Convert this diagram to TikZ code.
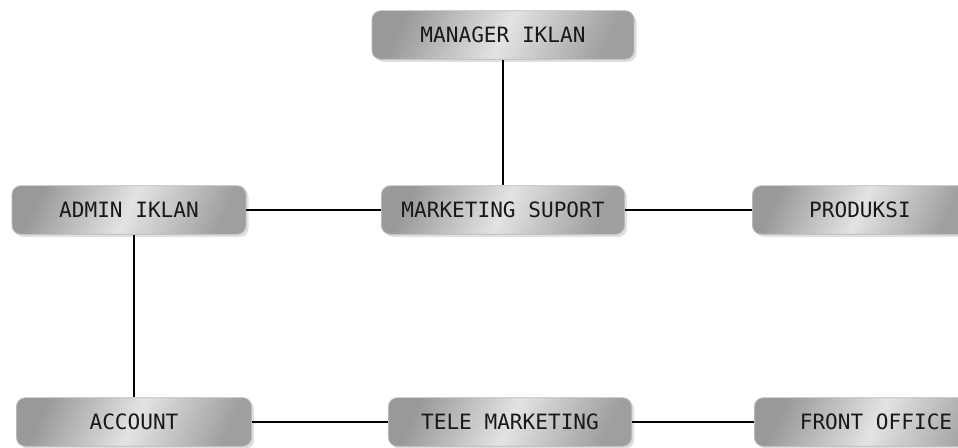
\documentclass[tikz,border=0pt]{standalone}
\usepackage{fontspec}
\setmonofont{DejaVu Sans Mono}
\usetikzlibrary{shadows,positioning}

\tikzset{
  unit/.style={rounded corners=5pt, draw=gray!55, line width=0.5pt,
    left color=gray!80, right color=gray!75, middle color=gray!22,
    shading angle=65,
    drop shadow={opacity=0.25, shadow xshift=1.5pt, shadow yshift=-1.5pt},
    minimum height=0.97cm, inner sep=0pt,
    font=\ttfamily\fontsize{12}{14}\selectfont, text=black!90},
  link/.style={draw=black, line width=0.6pt}
}

\begin{document}
\begin{tikzpicture}[x=0.02cm,y=-0.02cm]
  \useasboundingbox (0,0) rectangle (958,447);

  % top
  \node[unit,minimum width=5.24cm] (manager)  at (503,35)  {MANAGER IKLAN};

  % middle row
  \node[unit,minimum width=4.68cm] (admin)    at (129,210) {ADMIN IKLAN};
  \node[unit,minimum width=4.86cm] (mktsup)   at (503,210) {MARKETING SUPORT};
  \node[unit,minimum width=4.30cm] (produksi) at (860,210) {PRODUKSI};

  % bottom row
  \node[unit,minimum width=4.70cm] (account)  at (134,422) {ACCOUNT};
  \node[unit,minimum width=4.86cm] (tele)     at (510,422) {TELE MARKETING};
  \node[unit,minimum width=4.86cm] (front)    at (876,422) {FRONT OFFICE};

  % connectors
  \draw[link] (manager) -- (mktsup);
  \draw[link] (admin) -- (mktsup);
  \draw[link] (mktsup) -- (produksi);
  \draw[link] (admin.south -| account.north) -- (account);
  \draw[link] (account) -- (tele);
  \draw[link] (tele) -- (front);
\end{tikzpicture}
\end{document}
